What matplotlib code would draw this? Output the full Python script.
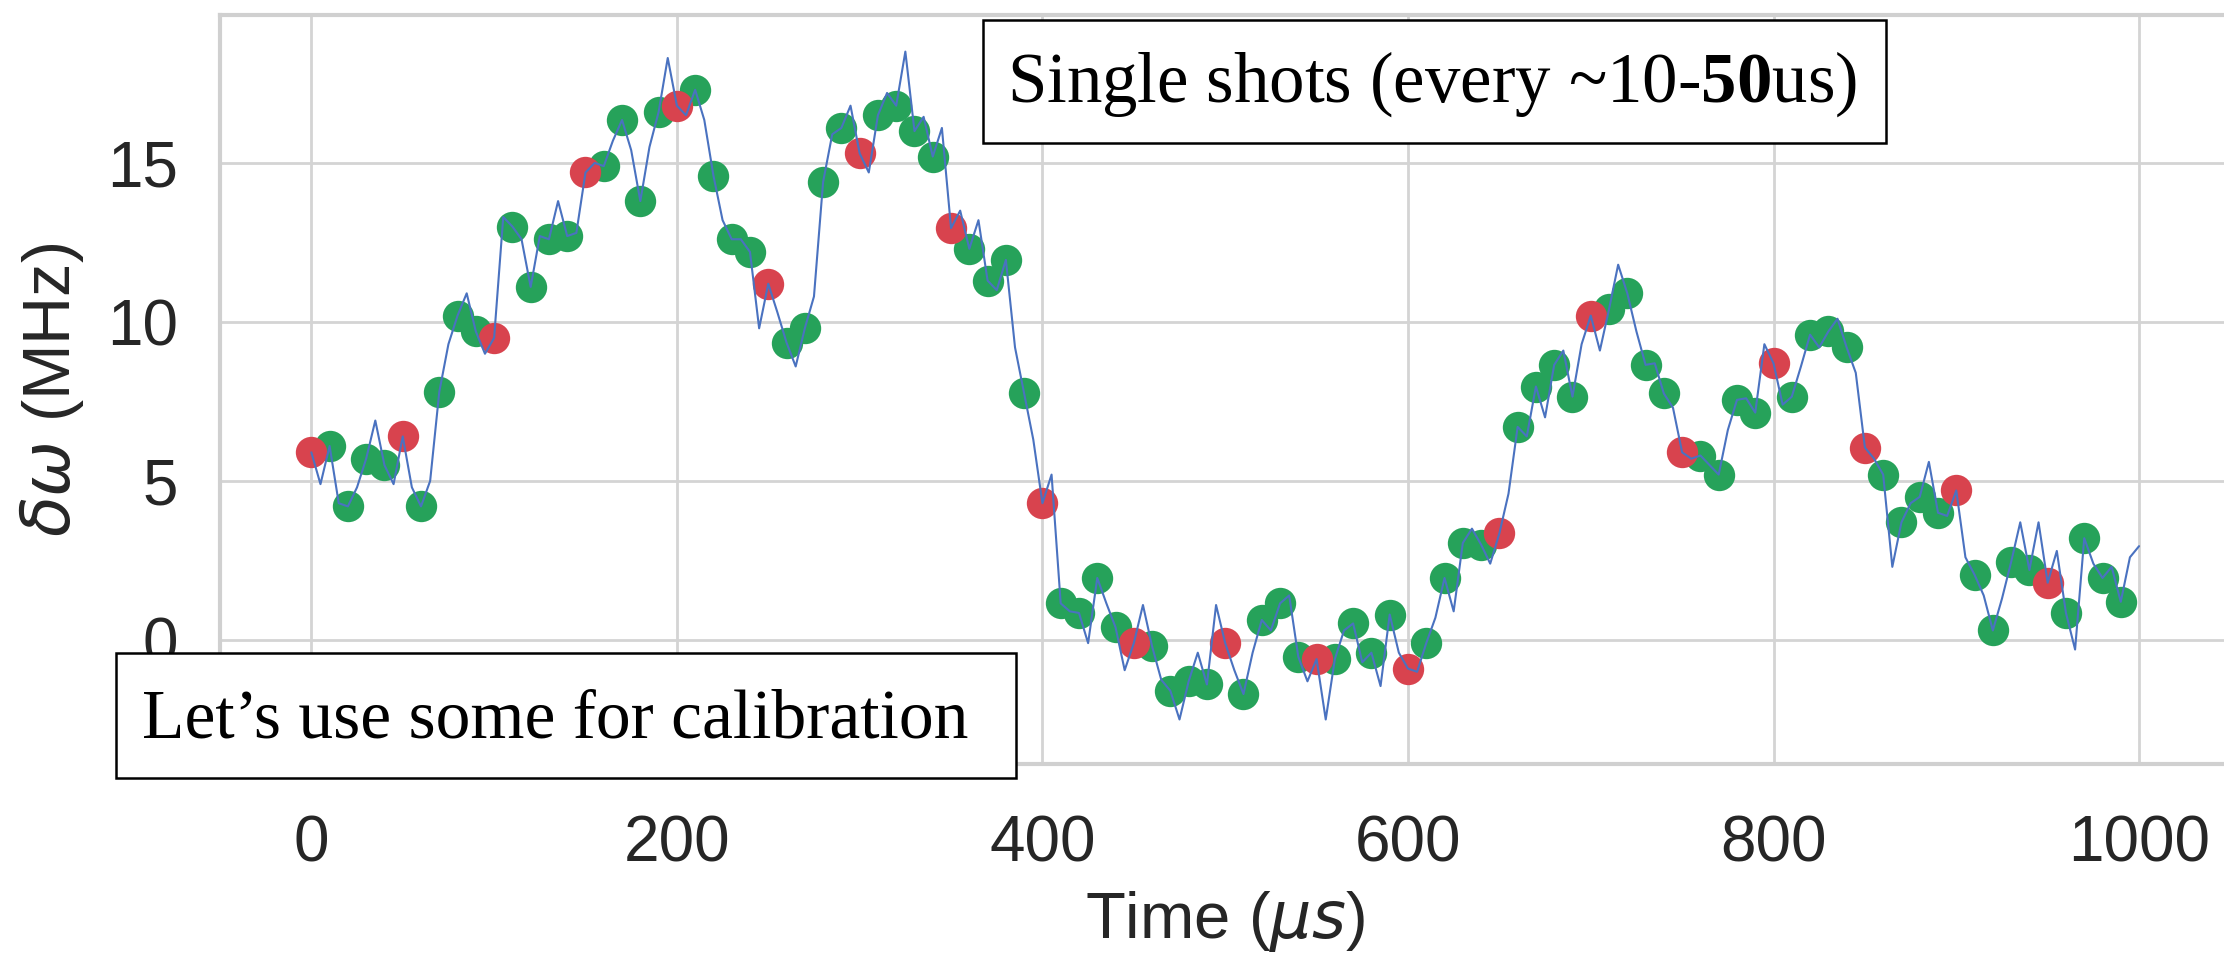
import numpy as np
import matplotlib
matplotlib.use('Agg')
import matplotlib.pyplot as plt
from matplotlib.patches import Rectangle
import seaborn as sns

# single-shot estimates, one every 10 us
shot_times = np.arange(0, 1000, 10)
shot_values = [
    5.9, 6.1, 4.2, 5.7, 5.5, 6.4, 4.2, 7.8, 10.2, 9.7,
    9.5, 13.0, 11.1, 12.6, 12.7, 14.7, 14.9, 16.35, 13.8, 16.6,
    16.8, 17.3, 14.6, 12.6, 12.2, 11.2, 9.35, 9.8, 14.4, 16.1,
    15.3, 16.5, 16.8, 16.0, 15.2, 12.95, 12.3, 11.3, 11.95, 7.75,
    4.3, 1.15, 0.85, 1.95, 0.4, -0.1, -0.2, -1.6, -1.3, -1.4,
    -0.1, -1.7, 0.63, 1.15, -0.53, -0.6, -0.6, 0.52, -0.4, 0.8,
    -0.9, -0.1, 1.95, 3.05, 3.0, 3.35, 6.7, 7.97, 8.65, 7.65,
    10.2, 10.4, 10.9, 8.65, 7.75, 5.9, 5.8, 5.2, 7.55, 7.15,
    8.7, 7.65, 9.6, 9.7, 9.2, 6.05, 5.2, 3.7, 4.5, 4.0,
    4.7, 2.05, 0.3, 2.45, 2.2, 1.8, 0.85, 3.2, 1.95, 1.2,
]
# shots used for calibration
calib_times = [0, 50, 100, 150, 200, 250, 300, 350, 400, 450,
               500, 550, 600, 650, 700, 750, 800, 850, 900, 950]

# full trace: samples between shots (t = 5, 15, ..., 995) and the last one at t = 1000
trace_mid_values = [
    4.9, 4.3, 4.8, 6.9, 4.9, 4.8, 5.0, 9.3, 10.9, 9.0,
    13.3, 12.6, 12.7, 13.8, 12.8, 15.0, 15.7, 15.4, 15.5, 18.3,
    16.5, 16.35, 13.2, 12.6, 9.8, 10.3, 8.6, 10.8, 15.9, 16.8,
    14.7, 17.2, 18.5, 16.45, 16.1, 13.5, 13.2, 11.0, 9.2, 6.3,
    5.2, 0.9, -0.1, 1.15, -0.95, 1.1, -1.25, -2.5, -0.4, 1.1,
    -0.95, -0.4, 0.3, 1.4, -1.3, -2.5, 0.3, -0.7, -1.45, -0.4,
    -1.0, 0.7, 0.9, 3.5, 2.4, 4.6, 6.4, 7.0, 9.1, 9.3,
    9.1, 11.8, 9.7, 8.7, 7.3, 5.7, 5.5, 6.6, 7.6, 9.3,
    7.4, 8.6, 9.2, 10.1, 8.4, 5.7, 2.3, 4.3, 5.6, 3.9,
    2.6, 1.4, 1.3, 3.7, 3.7, 2.8, -0.3, 2.4, 2.3, 2.6,
]
trace_end_value = 2.95

trace_t = np.arange(0, 1001, 5)
trace_y = np.empty(len(trace_t))
trace_y[0:-1:2] = shot_values
trace_y[1::2] = trace_mid_values
trace_y[-1] = trace_end_value

shot_values = np.array(shot_values)
is_calib = np.isin(shot_times, calib_times)

sns.set_style('whitegrid')
plt.rcParams['font.family'] = ['Liberation Sans', 'DejaVu Sans']
plt.rcParams['mathtext.rm'] = 'Liberation Serif'
plt.rcParams['mathtext.bf'] = 'Liberation Serif:bold'

fig = plt.figure(figsize=(22.24, 9.58), dpi=100)
ax = fig.add_axes([0.0989, 0.2025, 0.904, 0.7818])

ax.scatter(shot_times[~is_calib], shot_values[~is_calib], s=510, color='#26a25a', linewidths=0, zorder=2)
ax.scatter(shot_times[is_calib], shot_values[is_calib], s=510, color='#d8434e', linewidths=0, zorder=3)
ax.plot(trace_t, trace_y, color='#4a72c0', lw=1.5, zorder=4)

ax.set_xlim(-50, 1050)
ax.set_ylim(-3.9, 19.65)
ax.set_xticks([0, 200, 400, 600, 800, 1000])
ax.set_yticks([0, 5, 10, 15])
ax.grid(color='#d4d4d4', lw=2.0)
for sp in ax.spines.values():
    sp.set_color('#d0d0d0')
    sp.set_linewidth(3.0)
ax.tick_params(axis='x', labelsize=46, pad=36, length=0, colors='#262626')
ax.tick_params(axis='y', labelsize=46, pad=30, length=0, colors='#262626')
ax.set_xlabel(r'Time ($\mu s$)', fontsize=47, color='#262626', labelpad=11)
ax.set_ylabel(r'$\delta\omega$ (MHz)', fontsize=48, color='#262626', labelpad=15)

# annotation boxes
W, H = 2224.0, 958.0
for x0, y0, x1, y1 in [(983, 20, 1886, 143), (116, 653, 1016, 778)]:
    fig.add_artist(Rectangle((x0 / W, 1 - y1 / H), (x1 - x0) / W, (y1 - y0) / H,
                             transform=fig.transFigure, facecolor='white',
                             edgecolor='black', lw=1.8, zorder=10))
fig.text(1007 / W, 1 - 102 / H, r'Single shots (every ~10-$\mathbf{50}$us)',
         fontsize=51, family='Liberation Serif', math_fontfamily='custom',
         ha='left', va='baseline', color='black', zorder=11)
fig.text(142 / W, 1 - 737 / H, 'Let\u2019s use some for calibration',
         fontsize=50, family='Liberation Serif',
         ha='left', va='baseline', color='black', zorder=11)

fig.savefig('out.png', dpi=100)
